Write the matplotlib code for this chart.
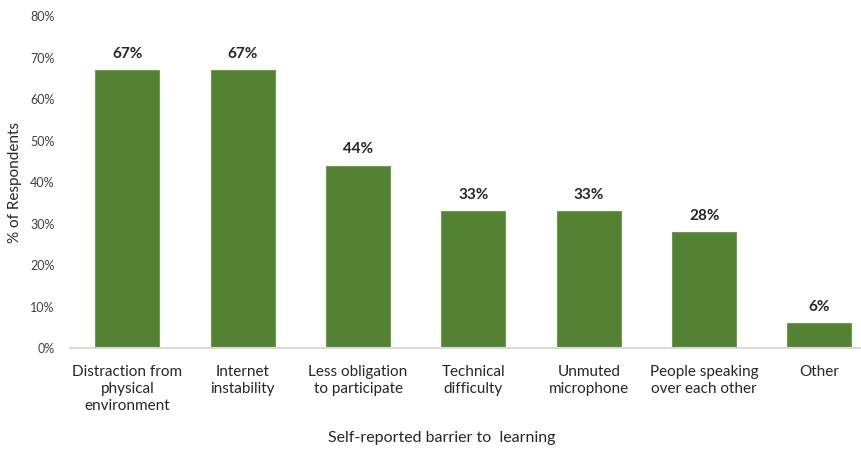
import matplotlib
matplotlib.use("Agg")
import matplotlib.pyplot as plt
from matplotlib.ticker import PercentFormatter

plt.rcParams['font.family'] = ['Lato', 'DejaVu Sans']

categories = [
    "Distraction from\nphysical\nenvironment",
    "Internet\ninstability",
    "Less obligation\nto participate",
    "Technical\ndifficulty",
    "Unmuted\nmicrophone",
    "People speaking\nover each other",
    "Other",
]
values = [67, 67, 44, 33, 33, 28, 6]
y_ticks = [0, 10, 20, 30, 40, 50, 60, 70, 80]

fig = plt.figure(figsize=(8.61, 4.5), dpi=100)
ax = fig.add_axes([0.081, 0.2267, 0.919, 0.7373])

x = list(range(len(categories)))
bars = ax.bar(x, values, width=0.555, color="#548235", edgecolor="#6f9a50", linewidth=0.8)

for xi, v in zip(x, values):
    ax.text(xi, v + 2.2, f"{v}%", ha="center", va="bottom", fontsize=11,
            fontweight="bold", color="#262626")

ax.set_ylim(0, 80)
ax.set_xlim(-0.5, 6.36)
ax.set_yticks(y_ticks)
ax.yaxis.set_major_formatter(PercentFormatter(decimals=0))
ax.tick_params(axis="y", length=0, labelsize=9, colors="#404040", pad=11)
ax.set_xticks(x)
ax.set_xticklabels(categories, fontsize=11, color="#262626", linespacing=1.3)
ax.tick_params(axis="x", length=0, pad=12)

for side in ("top", "right", "left"):
    ax.spines[side].set_visible(False)
ax.spines["bottom"].set_color("#d9d9d9")
ax.spines["bottom"].set_linewidth(1.5)

ax.set_ylabel("% of Respondents", fontsize=11, color="#262626", labelpad=6)
fig.text(0.513, 0.027, "Self-reported barrier to  learning", ha="center",
         va="center", fontsize=11.5, color="#262626")

fig.savefig("out.png", dpi=100)
